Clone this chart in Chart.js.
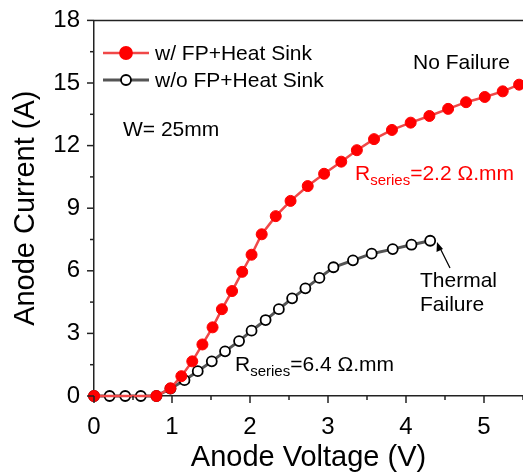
<!DOCTYPE html>
<html>
<head>
<meta charset="utf-8">
<script src="https://cdn.jsdelivr.net/npm/chart.js@4/dist/chart.umd.min.js"></script>
<style>
  html, body { margin: 0; padding: 0; background: #fff; }
  #wrap { width: 523px; height: 475px; }
</style>
</head>
<body>
<div id="wrap"><canvas id="c" width="523" height="475"></canvas></div>
<script>
// w/ FP + Heat Sink
const voltageFP = [0, 0.8, 0.98, 1.12, 1.26, 1.39, 1.52, 1.64, 1.77, 1.90, 2.02, 2.15, 2.33, 2.52, 2.74, 2.95, 3.17, 3.37, 3.59, 3.82, 4.06, 4.30, 4.54, 4.77, 5.01, 5.24, 5.45];
const currentFP = [0, 0, 0.37, 0.95, 1.66, 2.47, 3.29, 4.16, 5.03, 5.95, 6.77, 7.75, 8.62, 9.35, 10.06, 10.65, 11.23, 11.78, 12.31, 12.75, 13.10, 13.42, 13.76, 14.08, 14.33, 14.60, 14.92];
// w/o FP + Heat Sink
const voltageNoFP = [0, 0.2, 0.4, 0.6, 0.8, 0.98, 1.16, 1.33, 1.51, 1.68, 1.86, 2.02, 2.20, 2.37, 2.54, 2.71, 2.89, 3.07, 3.32, 3.56, 3.83, 4.07, 4.31];
const currentNoFP = [0, 0, 0, 0, 0, 0.35, 0.76, 1.19, 1.66, 2.14, 2.63, 3.13, 3.64, 4.16, 4.68, 5.16, 5.66, 6.17, 6.50, 6.82, 7.04, 7.25, 7.44];

const xTicks = [0, 1, 2, 3, 4, 5];
const yTicks = [0, 3, 6, 9, 12, 15, 18];
const seriesNames = ['w/ FP+Heat Sink', 'w/o FP+Heat Sink'];

const toPoints = (xs, ys) => xs.map((x, i) => ({ x: x, y: ys[i] }));
const FONT = '"Liberation Sans", Arial, sans-serif';

// frame, minor ticks, legend and labels
const decor = {
  id: 'decor',
  afterDraw(chart) {
    const ctx = chart.ctx;
    const xs = chart.scales.x, ys = chart.scales.y;
    const a = chart.chartArea;
    ctx.save();
    ctx.strokeStyle = '#222';
    ctx.lineWidth = 1.5;
    // top frame line
    ctx.beginPath();
    ctx.moveTo(a.left, a.top);
    ctx.lineTo(a.right, a.top);
    ctx.stroke();
    // x ticks
    for (let v = 0; v <= 5.5; v += 0.5) {
      const px = xs.getPixelForValue(v);
      const len = Number.isInteger(v) ? 7 : 4;
      ctx.beginPath();
      ctx.moveTo(px, a.bottom);
      ctx.lineTo(px, a.bottom + len);
      ctx.stroke();
    }
    // y ticks
    for (let v = 0; v <= 18; v += 1.5) {
      const py = ys.getPixelForValue(v);
      const len = (v % 3 === 0) ? 7 : 4;
      ctx.beginPath();
      ctx.moveTo(a.left, py);
      ctx.lineTo(a.left - len, py);
      ctx.stroke();
    }

    // legend
    const items = [
      { y: 53, line: '#f04848', fill: '#ff0000', stroke: '#ff0000', lw: 2.5 },
      { y: 80, line: '#555555', fill: '#ffffff', stroke: '#000000', lw: 3 }
    ];
    items.forEach((it, i) => {
      ctx.strokeStyle = it.line;
      ctx.lineWidth = it.lw;
      ctx.beginPath();
      ctx.moveTo(103, it.y);
      ctx.lineTo(149, it.y);
      ctx.stroke();
      ctx.beginPath();
      ctx.arc(126, it.y, i === 0 ? 6 : 5, 0, Math.PI * 2);
      ctx.fillStyle = it.fill;
      ctx.fill();
      ctx.lineWidth = 1.8;
      ctx.strokeStyle = it.stroke;
      ctx.stroke();
      ctx.fillStyle = '#000';
      ctx.font = '21px ' + FONT;
      ctx.textBaseline = 'middle';
      ctx.textAlign = 'left';
      ctx.fillText(seriesNames[i], 155, it.y + 1);
    });

    ctx.font = '21px ' + FONT;
    ctx.fillStyle = '#000';
    ctx.textBaseline = 'middle';
    ctx.fillText('W= 25mm', 123, 130);
    ctx.fillText('No Failure', 413, 63);
    ctx.fillText('Thermal', 420, 281);
    ctx.fillText('Failure', 420, 305);

    const rseries = (x, y, color, tail) => {
      ctx.fillStyle = color;
      ctx.textBaseline = 'alphabetic';
      ctx.font = '21px ' + FONT;
      ctx.fillText('R', x, y);
      let w = ctx.measureText('R').width;
      ctx.font = '15px ' + FONT;
      ctx.fillText('series', x + w, y + 5);
      w += ctx.measureText('series').width;
      ctx.font = '21px ' + FONT;
      ctx.fillText(tail, x + w, y);
    };
    rseries(355, 180, '#ff0000', '=2.2 \u03A9.mm');
    rseries(235, 371, '#000', '=6.4 \u03A9.mm');

    // arrow to last point
    ctx.strokeStyle = '#000';
    ctx.lineWidth = 1.2;
    ctx.beginPath();
    ctx.moveTo(450, 268);
    ctx.lineTo(439, 246);
    ctx.stroke();
    ctx.beginPath();
    ctx.moveTo(437, 242);
    ctx.lineTo(436.5, 252);
    ctx.lineTo(443, 249);
    ctx.closePath();
    ctx.fillStyle = '#000';
    ctx.fill();
    ctx.restore();
  }
};

new Chart(document.getElementById('c'), {
  type: 'scatter',
  data: {
    datasets: [
      {
        label: seriesNames[0],
        data: toPoints(voltageFP, currentFP),
        showLine: true,
        borderColor: '#f04848',
        borderWidth: 2.5,
        pointBackgroundColor: '#ff0000',
        pointBorderColor: '#ff0000',
        pointRadius: 5.5,
        pointBorderWidth: 1
      },
      {
        label: seriesNames[1],
        data: toPoints(voltageNoFP, currentNoFP),
        showLine: true,
        borderColor: '#555555',
        borderWidth: 3,
        pointBackgroundColor: '#ffffff',
        pointBorderColor: '#000000',
        pointRadius: 5,
        pointBorderWidth: 1.8
      }
    ]
  },
  options: {
    responsive: false,
    animation: false,
    clip: false,
    layout: { autoPadding: false, padding: { top: 16, right: 0, left: 0, bottom: 0 } },
    plugins: { legend: { display: false }, tooltip: { enabled: false } },
    scales: {
      x: {
        type: 'linear',
        min: 0,
        max: 5.5,
        afterBuildTicks: s => { s.ticks = xTicks.map(v => ({ value: v })); },
        afterFit: s => { s.height = 79; },
        grid: { display: false },
        border: { display: true, color: '#222', width: 1.5 },
        ticks: { color: '#000', font: { family: FONT, size: 24 }, padding: 9, maxRotation: 0 },
        title: { display: true, text: 'Anode Voltage (V)', color: '#000', font: { family: FONT, size: 29 }, padding: { top: 5, bottom: 0 } }
      },
      y: {
        type: 'linear',
        min: 0,
        max: 18,
        afterBuildTicks: s => { s.ticks = yTicks.map(v => ({ value: v })); },
        afterFit: s => { s.width = 94; },
        grid: { display: false },
        border: { display: true, color: '#222', width: 1.5 },
        ticks: { color: '#000', font: { family: FONT, size: 24 }, padding: 6 },
        title: { display: true, text: 'Anode Current (A)', color: '#000', font: { family: FONT, size: 29 }, padding: { top: 9, bottom: 0 } }
      }
    }
  },
  plugins: [decor]
});
</script>
</body>
</html>
